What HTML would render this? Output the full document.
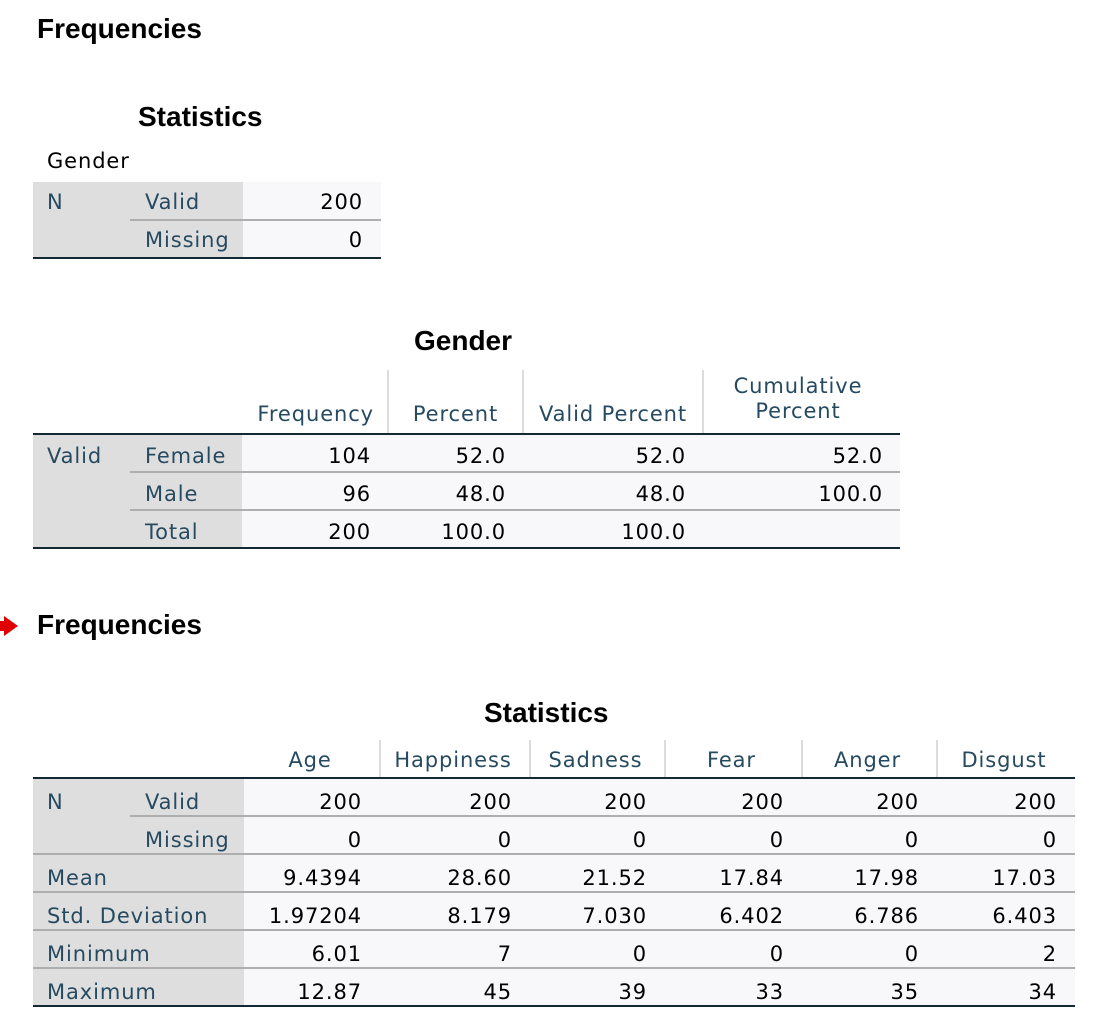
<!DOCTYPE html>
<html><head><meta charset="utf-8">
<style>
body{margin:0;width:1094px;height:1032px;background:#fff;position:relative;overflow:hidden;font-family:"DejaVu Sans","Liberation Sans",sans-serif;}
.a{position:absolute;white-space:nowrap;}
.t{font-size:21px;line-height:38px;height:38px;letter-spacing:0.9px;}
.lab{color:#264a60;}
.num{color:#000;}
.h1{font-family:"Liberation Sans",sans-serif;font-weight:bold;font-size:28px;color:#000;}
.h2{font-family:"Liberation Sans",sans-serif;font-weight:bold;font-size:28px;color:#000;}
.gray{background:#dedede;}
.dat{background:#f8f8fa;}
.dk{background:#152935;height:2px;}
.ln{background:#aeaeae;height:2px;}
.vl{background:#dcdcdc;width:2px;}
</style></head>
<body>
<div class="a h1" style="left:37px;top:13px">Frequencies</div>
<div class="a h2" style="left:138px;top:101px">Statistics</div>
<div class="a t lab" style="left:47px;top:142px;color:#000">Gender</div>
<div class="a h2" style="left:414px;top:325px">Gender</div>
<div class="a" style="left:4px;top:616px;width:0;height:0;border-top:10px solid transparent;border-bottom:10px solid transparent;border-left:14px solid #e00000"></div>
<div class="a" style="left:0;top:621px;width:6px;height:10px;background:#e00000"></div>
<div class="a h1" style="left:37px;top:609px">Frequencies</div>
<div class="a h2" style="left:484px;top:697px">Statistics</div>
<script>
const root=document.body;
function box(x,y,w,h,cls){const d=document.createElement('div');d.className='a '+cls;d.style.left=x+'px';d.style.top=y+'px';d.style.width=w+'px';if(h!=null)d.style.height=h+'px';root.appendChild(d);return d;}
function text(x,y,w,align,s,cls){const d=box(x,y,w,38,'t '+cls);d.style.textAlign=align;d.textContent=s;return d;}

// Table 1
const t1Rows=["Valid","Missing"];
const t1Vals=["200","0"];
let g=box(33,182,210,76,'gray');


g=box(243,182,138,76,'dat');


let e=text(47,183,80,'left','N','lab');


t1Rows.forEach((r,i)=>{
  let a=text(145,183+i*38,100,'left',r,'lab');
  
  
  let b=text(243,183+i*38,120,'right',t1Vals[i],'num');
  
  
});
e=box(130,219,251,2,'ln');


e=box(33,257,348,2,'dk');



// Table 2
const t2Cols=[[242,388],[388,523],[523,703],[703,900]];
const t2Rows=["Female","Male","Total"];
const t2Vals=[["104","52.0","52.0","52.0"],["96","48.0","48.0","100.0"],["200","100.0","100.0",""]];
g=box(33,434,209,114,'gray');


g=box(242,434,658,114,'dat');


[388,523,703].forEach(x=>{
  let v=box(x-1,370,null,64,'vl');
  
  
});
e=text(242,395,132,'right','Frequency','lab');


e=text(388,395,135,'center','Percent','lab');


e=text(523,395,180,'center','Valid Percent','lab');


e=text(703,367,190,'center','Cumulative','lab');


e=text(703,392,190,'center','Percent','lab');


e=text(47,437,80,'left','Valid','lab');


t2Rows.forEach((r,i)=>{
  const y=437+i*38;
  let a=text(145,y,100,'left',r,'lab');
  
  
  t2Vals[i].forEach((v,j)=>{
    const c=t2Cols[j];
    let b=text(c[0],y,c[1]-c[0]-17,'right',v,'num');
    
    
  });
});
[471,509].forEach(y=>{
  let l=box(130,y,770,2,'ln');
  
  
});
e=box(33,433,867,2,'dk');


e=box(33,547,867,2,'dk');



// Table 3
const t3Headers=["Age","Happiness","Sadness","Fear","Anger","Disgust"];
const t3Cols=[[244,380],[380,530],[530,665],[665,802],[802,937],[937,1075]];
const t3Rows=["Mean","Std. Deviation","Minimum","Maximum"];
const t3Valid=["200","200","200","200","200","200"];
const t3Missing=["0","0","0","0","0","0"];
const t3Mean=["9.4394","28.60","21.52","17.84","17.98","17.03"];
const t3Sd=["1.97204","8.179","7.030","6.402","6.786","6.403"];
const t3Min=["6.01","7","0","0","0","2"];
const t3Max=["12.87","45","39","33","35","34"];
const t3Data=[t3Valid,t3Missing,t3Mean,t3Sd,t3Min,t3Max];
g=box(33,778,211,228,'gray');


g=box(244,778,831,228,'dat');


[380,530,665,802,937].forEach(x=>{
  let v=box(x-1,740,null,38,'vl');
  
  
});
t3Headers.forEach((h,j)=>{
  const c=t3Cols[j];
  let a=text(c[0],741,c[1]-c[0]-4,'center',h,'lab');
  
  
});
e=text(47,783,80,'left','N','lab');


e=text(145,783,100,'left','Valid','lab');


e=text(145,821,100,'left','Missing','lab');


t3Rows.forEach((r,i)=>{
  let a=text(47,859+i*38,200,'left',r,'lab');
  
  
});
t3Data.forEach((row,i)=>{
  row.forEach((v,j)=>{
    const c=t3Cols[j];
    let b=text(c[0],783+i*38,c[1]-c[0]-18,'right',v,'num');
    
    
  });
});
e=box(130,815,945,2,'ln');


[853,891,929,967].forEach(y=>{
  let l=box(33,y,1042,2,'ln');
  
  
});
e=box(33,777,1042,2,'dk');


e=box(33,1005,1042,2,'dk');


</script>
</body></html>
